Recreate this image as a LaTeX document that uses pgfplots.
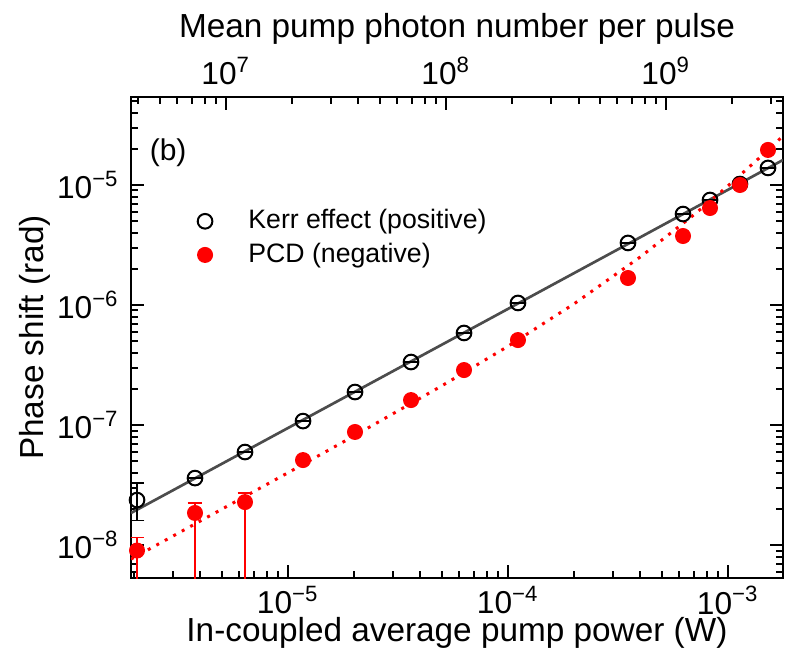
\documentclass[border=0pt]{standalone}
\usepackage{fontspec}
\setmainfont{Liberation Sans}
\usepackage{pgfplots}
\pgfplotsset{compat=1.18}

\begin{document}
\begin{tikzpicture}
\begin{axis}[
  name=main,
  scale only axis,
  width=195.6pt, height=144.3pt,
  xmode=log, ymode=log,
  xmin=1.933e-6, xmax=1.778e-3,
  ymin=5.31e-9, ymax=5.41e-5,
  xtick={1e-5,1e-4,1e-3},
  xticklabels={10\textsuperscript{−5},10\textsuperscript{−4},10\textsuperscript{−3}},
  minor xtick={2e-6,3e-6,4e-6,5e-6,6e-6,7e-6,8e-6,9e-6,2e-5,3e-5,4e-5,5e-5,6e-5,7e-5,8e-5,9e-5,2e-4,3e-4,4e-4,5e-4,6e-4,7e-4,8e-4,9e-4},
  ytick={1e-8,1e-7,1e-6,1e-5},
  yticklabels={10\textsuperscript{−8},10\textsuperscript{−7},10\textsuperscript{−6},10\textsuperscript{−5}},
  minor ytick={6e-9,7e-9,8e-9,9e-9,2e-8,3e-8,4e-8,5e-8,6e-8,7e-8,8e-8,9e-8,2e-7,3e-7,4e-7,5e-7,6e-7,7e-7,8e-7,9e-7,2e-6,3e-6,4e-6,5e-6,6e-6,7e-6,8e-6,9e-6,2e-5,3e-5,4e-5,5e-5},
  xtick pos=bottom, ytick pos=both,
  tick align=inside,
  major tick length=4pt, minor tick length=2.2pt,
  every tick/.style={black, line width=0.6pt},
  axis line style={line width=0.8pt},
  tick label style={font=\fontsize{9.5}{11}\selectfont},
  xticklabel style={yshift=1.2pt},
  xlabel={In-coupled average pump power (W)},
  ylabel={Phase shift (rad)},
  label style={font=\fontsize{10}{12}\selectfont},
  xlabel style={at={(rel axis cs:0.5,0)}, anchor=center, yshift=-16.6pt},
  ylabel style={at={(rel axis cs:-0.148,0.5)}, anchor=center},
  legend style={at={(0.086,0.796)}, anchor=north west, draw=none, fill=none,
                font=\fontsize{8}{10}\selectfont, row sep=-1.2pt, column sep=8.8pt},
  legend cell align=left,
]
% fitted lines
\addplot[black!70, line width=0.8pt, forget plot] coordinates {(1.933e-6,1.849e-8) (1.778e-3,1.615e-5)};
\addplot[red, dotted, line width=0.9pt, forget plot] coordinates {
 (1.933e-6,7.63e-9) (4e-6,1.588e-8) (1e-5,4.005e-8) (2e-5,8.13e-8) (5e-5,2.12e-7)
 (1e-4,4.53e-7) (2e-4,1.025e-6) (4e-4,2.52e-6) (7e-4,5.645e-6) (1e-3,9.83e-6)
 (1.4e-3,1.705e-5) (1.778e-3,2.56e-5)};
% Kerr effect (positive)
\addplot[black, only marks, mark=o, mark size=2.2pt, mark options={line width=0.6pt},
  error bars/.cd, y dir=both, y explicit, error bar style={black, line width=0.6pt}] coordinates {
 (2.059e-6,2.37e-8) += (0,0.92e-8) -= (0,0.76e-8)
 (3.778e-6,3.614e-8) += (0,0) -= (0,0)
 (6.375e-6,5.957e-8) += (0,0) -= (0,0)
 (1.170e-5,1.079e-7) += (0,0) -= (0,0)
 (2.016e-5,1.884e-7) += (0,0) -= (0,0)
 (3.624e-5,3.350e-7) += (0,0) -= (0,0)
 (6.310e-5,5.848e-7) += (0,0) -= (0,0)
 (1.110e-4,1.040e-6) += (0,0) -= (0,0)
 (3.511e-4,3.289e-6) += (0,0) -= (0,0)
 (6.245e-4,5.728e-6) += (0,0) -= (0,0)
 (8.285e-4,7.499e-6) += (0,0) -= (0,0)
 (1.1335e-3,1.019e-5) += (0,0) -= (0,0)
 (1.520e-3,1.387e-5) += (0,0) -= (0,0)
};
\addlegendentry{Kerr effect (positive)}
% PCD (negative)
\addplot[red, only marks, mark=*, mark size=2.2pt, mark options={fill=red, draw=red},
  error bars/.cd, y dir=both, y explicit, error bar style={red, line width=0.7pt}] coordinates {
 (2.059e-6,9.0e-9) += (0,2.5e-9) -= (0,8.9e-9)
 (3.778e-6,1.85e-8) += (0,0.39e-8) -= (0,1.84e-8)
 (6.375e-6,2.28e-8) += (0,0.43e-8) -= (0,2.27e-8)
 (1.170e-5,5.105e-8) += (0,0) -= (0,0)
 (2.016e-5,8.75e-8) += (0,0) -= (0,0)
 (3.624e-5,1.614e-7) += (0,0) -= (0,0)
 (6.310e-5,2.871e-7) += (0,0) -= (0,0)
 (1.110e-4,5.105e-7) += (0,0) -= (0,0)
 (3.511e-4,1.679e-6) += (0,0) -= (0,0)
 (6.245e-4,3.758e-6) += (0,0) -= (0,0)
 (8.285e-4,6.43e-6) += (0,0) -= (0,0)
 (1.1335e-3,1.0e-5) += (0,0) -= (0,0)
 (1.520e-3,1.959e-5) += (0,0) -= (0,0)
};
\addlegendentry{PCD (negative)}
\node[font=\fontsize{9}{11}\selectfont] at (rel axis cs:0.057,0.884) {(b)};
\end{axis}
\begin{axis}[
  scale only axis,
  width=195.6pt, height=144.3pt,
  at={(main.south west)}, anchor=south west,
  xmode=log,
  xmin=3.700e6, xmax=3.402e9,
  ymin=0, ymax=1,
  axis y line=none, axis x line*=top,
  xtick={1e7,1e8,1e9},
  xticklabels={10\textsuperscript{7},10\textsuperscript{8},10\textsuperscript{9}},
  minor xtick={4e6,5e6,6e6,7e6,8e6,9e6,2e7,3e7,4e7,5e7,6e7,7e7,8e7,9e7,2e8,3e8,4e8,5e8,6e8,7e8,8e8,9e8,2e9,3e9},
  tick align=inside,
  major tick length=4pt, minor tick length=2.2pt,
  every tick/.style={black, line width=0.6pt},
  axis line style={line width=0.8pt},
  tick label style={font=\fontsize{9.5}{11}\selectfont},
  xlabel={Mean pump photon number per pulse},
  label style={font=\fontsize{10}{12}\selectfont},
  xlabel style={at={(rel axis cs:0.5,1)}, anchor=center, yshift=20.4pt},
]
\addplot[draw=none, forget plot] coordinates {(1e7,0.5) (1e8,0.5)};
\end{axis}
\pgfresetboundingbox
\path[use as bounding box] ([xshift=-39.3pt,yshift=-25.2pt]main.south west) rectangle ([xshift=4.5pt,yshift=29.1pt]main.north east);
\end{tikzpicture}
\end{document}
